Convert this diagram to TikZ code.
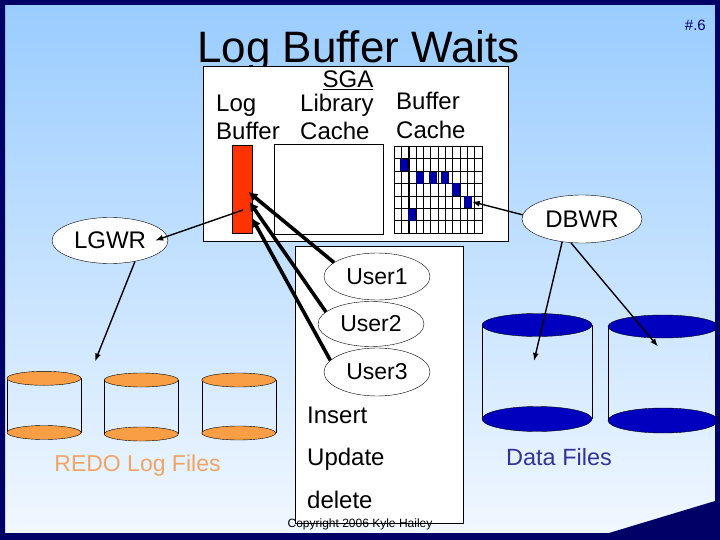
\documentclass[tikz,border=0pt]{standalone}
\usepackage{fontspec}
\setmainfont{Liberation Sans}
\usepackage{xcolor}
\usepackage{tikz}
\usetikzlibrary{shapes,arrows.meta,positioning,calc}

\definecolor{navy}{RGB}{0,0,102}
\definecolor{skytop}{RGB}{153,204,255}
\definecolor{skybot}{RGB}{242,248,255}
\definecolor{logred}{RGB}{255,51,0}
\definecolor{diskorange}{RGB}{250,158,70}
\definecolor{redotext}{RGB}{240,165,100}
\definecolor{diskblue}{RGB}{0,0,190}
\definecolor{blockblue}{RGB}{0,0,170}
\definecolor{datatext}{RGB}{51,51,153}

\tikzset{
    proc/.style={ellipse,draw,fill=white,inner sep=0pt,font=\fontsize{24}{28}\selectfont},
    lbl/.style={inner sep=0pt,font=\fontsize{24}{28}\selectfont},
    wire/.style={-{Latex[length=8pt,width=6pt]},line width=1.4pt},
    fatwire/.style={-{Latex[length=9pt,width=10pt]},line width=3.6pt},
}

\begin{document}
\begin{tikzpicture}[x=1pt,y=-1pt]
    \useasboundingbox (0,0) rectangle (720,540);
    \shade[top color=skytop,bottom color=skybot] (0,0) rectangle (720,540);

    \node[anchor=base,inner sep=0pt,text depth=0pt,font=\fontsize{44}{50}\selectfont] (title) at (358.5,63) {Log Buffer Waits};
    \node[anchor=base east,inner sep=0pt,text=navy,font=\fontsize{15}{18}\selectfont] (slideno) at (706,31) {\#.6};

    % SGA
    \node[draw,fill=white,minimum width=305pt,minimum height=175pt,inner sep=0pt] (sga) at (355.5,153.5) {};
    \node[lbl,anchor=base] (sgalbl) at (348,88) {\underline{SGA}};
    \node[lbl,anchor=base west] (loglbl) at (216,112) {Log};
    \node[lbl,anchor=base west] (loglbl2) at (216,140) {Buffer};
    \node[lbl,anchor=base west] (liblbl) at (300,112) {Library};
    \node[lbl,anchor=base west] (liblbl2) at (300,140) {Cache};
    \node[lbl,anchor=base west] (buflbl) at (396,110) {Buffer};
    \node[lbl,anchor=base west] (buflbl2) at (396,139) {Cache};

    \node[draw,fill=logred,minimum width=20pt,minimum height=88pt,inner sep=0pt] (logbuf) at (242,189) {};
    \node[draw,fill=white,minimum width=109pt,minimum height=90pt,inner sep=0pt] (libcache) at (328.5,189) {};

    \draw[fill=white] (394,146) rectangle (482,233);
    \foreach \i in {1,...,11}
        \draw ({394+\i*88/12},146) -- ({394+\i*88/12},233);
    \foreach \j in {1,...,6}
        \draw (394,{146+\j*87/7}) -- (482,{146+\j*87/7});
    \draw[line width=1.6pt] (408.7,146) -- (408.7,233);
    \foreach \n/\bx/\by in {1/404.1/164.5,2/419.5/177.5,3/432.3/177.5,4/444.2/177.5,5/456/189,6/468.1/201.7,7/411.2/214.5}
        \node[fill=blockblue,draw=blockblue!70!black,minimum width=7pt,minimum height=11.5pt,inner sep=0pt] (blk\n) at (\bx,\by) {};

    % background processes
    \node[proc,minimum width=116pt,minimum height=46pt] (lgwr) at (110,240.5) {LGWR};
    \node[proc,minimum width=120pt,minimum height=48pt] (dbwr) at (582,219) {DBWR};

    % users
    \node[draw,fill=white,minimum width=168pt,minimum height=277pt,inner sep=0pt] (userbox) at (379,384.5) {};
    \node[proc,font=\fontsize{23}{27}\selectfont,minimum width=106pt,minimum height=47pt] (user1) at (377,276.5) {User1};
    \node[proc,font=\fontsize{23}{27}\selectfont,minimum width=106pt,minimum height=45pt] (user2) at (371,324) {User2};
    \node[proc,font=\fontsize{23}{27}\selectfont,minimum width=106pt,minimum height=48pt] (user3) at (377,372) {User3};
    \node[lbl,anchor=base west] (ins) at (307,423) {Insert};
    \node[lbl,anchor=base west] (upd) at (307,465) {Update};
    \node[lbl,anchor=base west] (del) at (307,508) {delete};
    \node[anchor=base,inner sep=0pt,font=\fontsize{12}{14}\selectfont] (copyr) at (360,527.5) {Copyright 2006 Kyle Hailey};

    % redo log files
    \foreach \cx/\ty/\by [count=\k] in {44/378.3/432.5,141.3/380/434,238.8/380/433}{
        \draw ({\cx-37},\ty) -- ({\cx-37},\by) ({\cx+37},\ty) -- ({\cx+37},\by);
        \filldraw[fill=diskorange] (\cx,\by) ellipse [x radius=37pt,y radius=7pt];
        \filldraw[fill=diskorange] (\cx,\ty) ellipse [x radius=37pt,y radius=7pt];
        \coordinate (redo\k) at (\cx,\ty);
    }
    \node[lbl,text=redotext,font=\fontsize{23}{27}\selectfont,anchor=base] (redolbl) at (137.5,471.5) {REDO Log Files};

    % data files
    \foreach \cx/\ty/\by [count=\k] in {537/325/419,663/326.5/420.5}{
        \draw ({\cx-55},\ty) -- ({\cx-55},\by) ({\cx+55},\ty) -- ({\cx+55},\by);
        \filldraw[fill=diskblue] (\cx,\by) ellipse [x radius=55pt,y radius=12.5pt];
        \filldraw[fill=diskblue] (\cx,\ty) ellipse [x radius=55pt,y radius=11.5pt];
        \coordinate (data\k) at (\cx,\ty);
    }
    \node[lbl,text=datatext,font=\fontsize{23.5}{27}\selectfont,anchor=base] (datalbl) at (559,465.5) {Data Files};

    % connectors
    \coordinate (lgwrin) at (243,210);
    \coordinate (redoin) at (95,361.5);
    \coordinate (datain1) at (534,361);
    \coordinate (datain2) at (658,346.5);
    \draw[wire] (lgwrin) -- ([xshift=-13pt]lgwr.east);
    \draw[wire] (lgwr.320) -- (redoin);
    \draw[wire] (dbwr.176) -- (blk6.east);
    \draw[wire] (dbwr.229) -- (datain1);
    \draw[wire] (dbwr.245) -- (datain2);

    \coordinate (lb1) at (248.5,192);
    \coordinate (lb2) at (249.5,202);
    \coordinate (lb3) at (252,218);
    \draw[fatwire] (user1.162) -- (lb1);
    \draw[fatwire] (user2.165) -- (lb2);
    \draw[fatwire] (user3.166) -- (lb3);

    % frame
    \fill[navy,even odd rule] (0,0) rectangle (720,540) (5,5) rectangle (715,533);
    \fill[navy] (609,533) -- (715,501) -- (715,533) -- cycle;
\end{tikzpicture}
\end{document}
